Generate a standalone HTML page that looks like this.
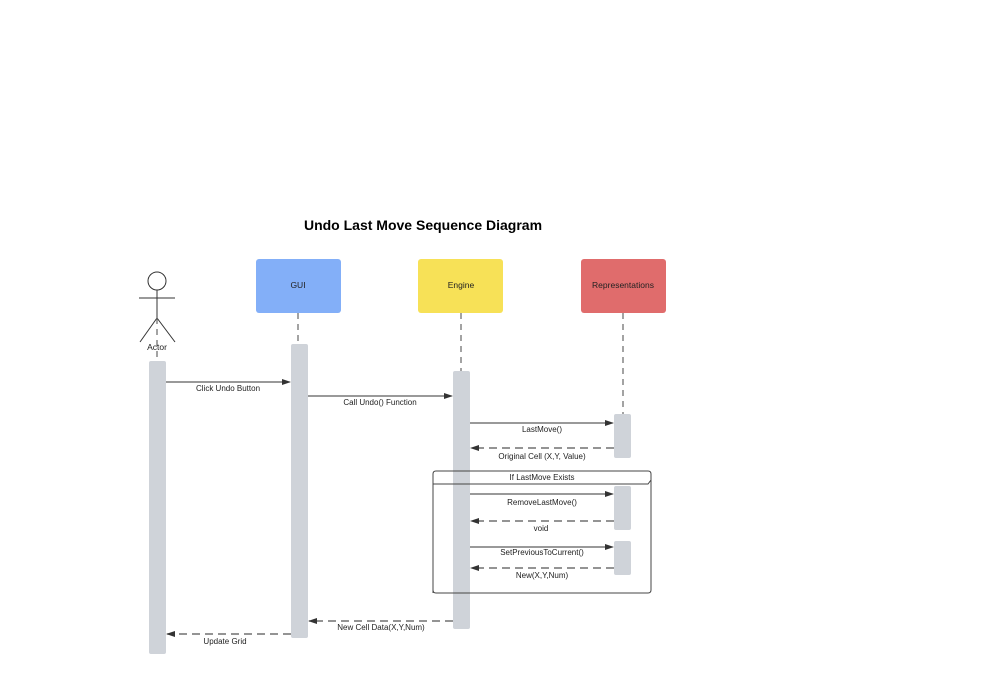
<!DOCTYPE html>
<html><head><style>body{margin:0;background:#fff}svg{display:block}text{font-family:"Liberation Sans",sans-serif}</style></head><body>
<svg width="1000" height="675" viewBox="0 0 1000 675">
<defs><marker id="a" markerWidth="9" markerHeight="6" refX="8" refY="3" orient="auto" markerUnits="userSpaceOnUse"><path d="M0,0 L9,3 L0,6 z" fill="#333"/></marker></defs>
<text x="423" y="230" font-size="14" font-weight="bold" text-anchor="middle" fill="#000">Undo Last Move Sequence Diagram</text>
<g stroke="#333" stroke-width="1" fill="none">
<circle cx="157" cy="281" r="9"/>
<line x1="157" y1="290" x2="157" y2="318"/>
<line x1="139" y1="298" x2="175" y2="298"/>
<line x1="157" y1="318" x2="140" y2="342"/>
<line x1="157" y1="318" x2="175" y2="342"/>
</g>
<g stroke="#666" stroke-width="1.2" stroke-dasharray="6,5" fill="none">
<line x1="157" y1="318" x2="157" y2="361"/>
<line x1="298" y1="313" x2="298" y2="344"/>
<line x1="461" y1="313" x2="461" y2="371"/>
<line x1="623" y1="313" x2="623" y2="414"/>
</g>
<rect x="256" y="259" width="85" height="54" rx="3" fill="#83aff8"/>
<rect x="418" y="259" width="85" height="54" rx="3" fill="#f7e157"/>
<rect x="581" y="259" width="85" height="54" rx="3" fill="#e06c6c"/>
<g font-size="8.5" fill="#222" text-anchor="middle">
<text x="298" y="288">GUI</text>
<text x="461" y="288">Engine</text>
<text x="623" y="288">Representations</text>
<text x="157" y="350">Actor</text>
</g>
<g fill="#cfd3d9">
<rect x="149" y="361" width="17" height="293" rx="2"/>
<rect x="291" y="344" width="17" height="294" rx="2"/>
<rect x="453" y="371" width="17" height="258" rx="2"/>
<rect x="614" y="414" width="17" height="44" rx="2"/>
<rect x="614" y="486" width="17" height="44" rx="2"/>
<rect x="614" y="541" width="17" height="34" rx="2"/>
</g>
<path d="M433,593 V474 Q433,471 436,471 H648 Q651,471 651,474 V480 L648,484 H433 M651,480 V590 Q651,593 648,593 H436 Q433,593 433,590" fill="none" stroke="#444" stroke-width="1"/>
<g stroke="#333" stroke-width="1" fill="none" marker-end="url(#a)">
<line x1="166" y1="382" x2="290" y2="382"/>
<line x1="308" y1="396" x2="452" y2="396"/>
<line x1="470" y1="423" x2="613" y2="423"/>
<line x1="470" y1="494" x2="613" y2="494"/>
<line x1="470" y1="547" x2="613" y2="547"/>
</g>
<g stroke="#555" stroke-width="1.2" stroke-dasharray="8,5" fill="none" marker-end="url(#a)">
<line x1="614" y1="448" x2="471" y2="448"/>
<line x1="614" y1="521" x2="471" y2="521"/>
<line x1="614" y1="568" x2="471" y2="568"/>
<line x1="453" y1="621" x2="309" y2="621"/>
<line x1="291" y1="634" x2="167" y2="634"/>
</g>
<g font-size="8" fill="#222" text-anchor="middle">
<text x="228" y="391">Click Undo Button</text>
<text x="380" y="405">Call Undo() Function</text>
<text x="542" y="432">LastMove()</text>
<text x="542" y="459">Original Cell (X,Y, Value)</text>
<text x="542" y="480">If LastMove Exists</text>
<text x="542" y="505">RemoveLastMove()</text>
<text x="541" y="531">void</text>
<text x="542" y="555">SetPreviousToCurrent()</text>
<text x="542" y="578">New(X,Y,Num)</text>
<text x="381" y="630">New Cell Data(X,Y,Num)</text>
<text x="225" y="644">Update Grid</text>
</g>
</svg>
</body></html>
